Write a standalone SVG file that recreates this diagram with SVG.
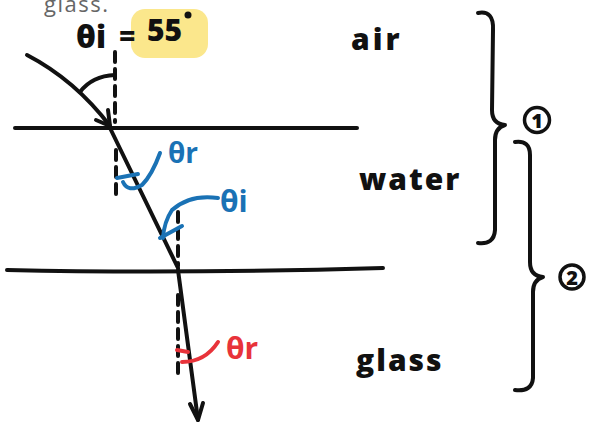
<svg xmlns="http://www.w3.org/2000/svg" width="591" height="425" viewBox="0 0 591 425">
<style>
.ink{fill:none;stroke:#111;stroke-width:4;stroke-linecap:round;stroke-linejoin:round}
.dash{fill:none;stroke:#111;stroke-width:4;stroke-linecap:round;stroke-dasharray:10 7}
.blue{fill:none;stroke:#1a72b5;stroke-width:4;stroke-linecap:round}
.red{fill:none;stroke:#e8333a;stroke-width:4;stroke-linecap:round}
.lbl{font-family:"Open Sans","DejaVu Sans",sans-serif;font-weight:800;fill:#111}
.bl{font-family:"Open Sans","DejaVu Sans",sans-serif;font-weight:700;fill:#1a72b5}
.rd{font-family:"Open Sans","DejaVu Sans",sans-serif;font-weight:700;fill:#e8333a}
</style>
<rect width="591" height="425" fill="#fff"/>
<g id="caption">
<text x="44" y="12" font-family="'Open Sans',sans-serif" font-size="22" letter-spacing="1.5" fill="#666">glass.</text>
</g>
<g id="theta-i-value">
<rect x="131" y="9" width="77" height="49" rx="14" fill="#fbe78c"/>
<text class="lbl" x="76" y="48" font-size="31">θi</text>
<text class="lbl" x="119" y="46" font-size="28">=</text>
<text class="lbl" x="147" y="41" font-size="30">55</text>
<circle cx="188" cy="15" r="3.5" fill="#111"/>
</g>
<g id="connectors">
<line class="ink" x1="15" y1="128" x2="357" y2="128"/>
<path class="ink" d="M7 270 Q180 274 383 268"/>
<path class="ink" d="M27 55 Q75 80 110 126"/>
<path class="ink" d="M96 120 L110 126 L108 110"/>
<path class="ink" d="M80 92 Q92 76 115 75"/>
<line class="dash" x1="115" y1="52" x2="115" y2="122"/>
<line class="dash" x1="116" y1="150" x2="116" y2="200"/>
<line class="ink" x1="110" y1="128" x2="178" y2="268"/>
<line class="dash" x1="178" y1="212" x2="178" y2="266"/>
<path class="ink" d="M178 270 Q186 330 198 420"/>
<path class="ink" d="M190 404 L198 420 L203 403"/>
<line class="dash" x1="178" y1="295" x2="178" y2="380"/>
</g>
<g id="theta-r-water">
<path class="blue" d="M117 178 L138 174"/>
<path class="blue" d="M123 182 Q128 193 142 185 Q152 175 160 153"/>
<text class="bl" x="168" y="163" font-size="28">θr</text>
</g>
<g id="theta-i-water">
<path class="blue" d="M218 198 Q190 194 172 210 Q164 222 163 238"/>
<path class="blue" d="M160 238 L182 226"/>
<text class="bl" x="220" y="212" font-size="30">θi</text>
</g>
<g id="theta-r-glass">
<path class="red" d="M177 350 L188 352"/>
<path class="red" d="M218 342 Q205 362 182 362"/>
<text class="rd" x="226" y="359" font-size="30">θr</text>
</g>
<g id="air"><text class="lbl" x="351" y="50" font-size="30" letter-spacing="3">air</text></g>
<g id="water"><text class="lbl" x="359" y="190" font-size="30" letter-spacing="2">water</text></g>
<g id="glass"><text class="lbl" x="356" y="371" font-size="30" letter-spacing="2">glass</text></g>
<g id="brace-1">
<path class="ink" d="M478 13 Q494 10 493 30 L492 110 Q492 124 505 125 Q495 128 495 140 L495 230 Q494 245 478 243"/>
<circle cx="537" cy="120" r="12.5" fill="none" stroke="#111" stroke-width="3.5"/>
<text class="lbl" x="537" y="128" font-size="20" text-anchor="middle">1</text>
</g>
<g id="brace-2">
<path class="ink" d="M515 142 Q530 140 530 155 L530 262 Q530 276 543 277 Q533 280 533 292 L533 378 Q532 392 515 390"/>
<circle cx="572" cy="277" r="12" fill="none" stroke="#111" stroke-width="3.5"/>
<text class="lbl" x="572" y="285" font-size="20" text-anchor="middle">2</text>
</g>
</svg>
